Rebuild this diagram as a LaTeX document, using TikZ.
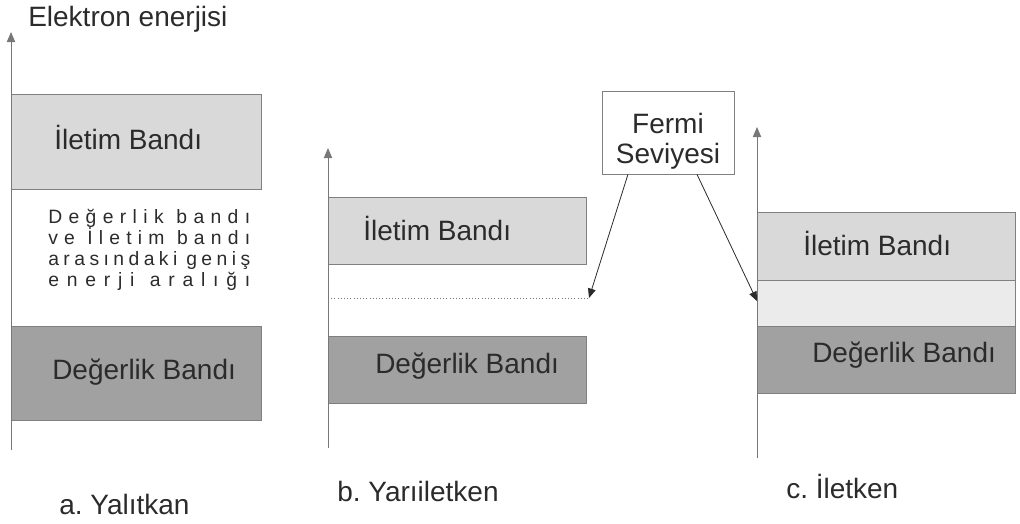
\documentclass[tikz,border=0pt]{standalone}
\usepackage{fontspec}
\setmainfont{Liberation Sans}
\usetikzlibrary{arrows}
\frenchspacing

\definecolor{iletimgri}{HTML}{D9D9D9}
\definecolor{degerlikgri}{HTML}{A1A1A1}
\definecolor{boslukgri}{HTML}{EBEBEB}
\definecolor{kenargri}{HTML}{808080}
\definecolor{eksengri}{HTML}{787878}
\definecolor{yazigri}{HTML}{2B2B2B}

\begin{document}
\begin{tikzpicture}[x = 0.75pt, y = -0.75pt, every node/.style = {inner sep = 0pt,
	text = yazigri, font = \fontsize{21}{25}\selectfont},
	iletim/.style = {draw = kenargri, fill = iletimgri, line width = 0.75pt},
	degerlik/.style = {draw = kenargri, fill = degerlikgri, line width = 0.75pt},
	bosluk/.style = {draw = kenargri, fill = boslukgri, line width = 0.75pt}]

		\useasboundingbox (0, 0) rectangle (1020, 524);

		% bantlar
		\foreach \xa/\ya/\xb/\yb/\tur in {11/95/261/189/iletim, 11/326/261/420/degerlik,
			328/197/586/264/iletim, 328/336/586/403/degerlik,
			757/212/1015/280/iletim, 757/280/1015/326/bosluk, 757/326/1015/393/degerlik}
			\path [\tur] (\xa, \ya) rectangle (\xb, \yb);

		% eksenler
		\foreach \xe/\ya/\yb in {11/450/32, 328/448/148, 757/458/127}
			\draw [-triangle 45, draw = eksengri, line width = 0.75pt] (\xe, \ya) -- (\xe, \yb);

		\node (enerji) at ( 28,  27) [anchor = base west] {Elektron enerjisi};
		\node (IBa)    at ( 54, 150) [anchor = base west] {İletim Bandı};
		\node (DBa)    at ( 52, 379) [anchor = base west] {Değerlik Bandı};
		\node (IBb)    at (363, 240) [anchor = base west] {İletim Bandı};
		\node (DBb)    at (375, 373) [anchor = base west] {Değerlik Bandı};
		\node (IBc)    at (803, 255) [anchor = base west] {İletim Bandı};
		\node (DBc)    at (812, 362) [anchor = base west] {Değerlik Bandı};
		\node (YAL)    at ( 59, 514) [anchor = base west] {a. Yalıtkan};
		\node (YARI)   at (337, 501) [anchor = base west] {b. Yarıiletken};
		\node (ILET)   at (786, 498) [anchor = base west] {c. İletken};

		\foreach \satir/\yy [count = \i] in {D e ğ e r l i k \ b a n d ı/223,
			v e \ İ l e t i m \ b a n d ı/244, a r a s ı n d a k i \ g e n i ş/265,
			e n e r j i \ a r a l ı ğ ı/286}
			\node (aralik\i) at (48, \yy) [anchor = base west,
				font = \fontsize{14.5}{16}\selectfont]
				{\spaceskip = 0pt plus 1fil\makebox[151.5pt][s]{\satir}};

		\node (fermi) at (668, 133) [draw = kenargri, fill = white, line width = 0.75pt,
			minimum width = 99pt, minimum height = 61.5pt] {};
		\node (fermiyazi) at (668, 133) [align = center, yshift = -6pt,
			font = \fontsize{21}{22.5}\selectfont] {Fermi\\Seviyesi};

		\coordinate (EFb) at (589, 298);
		\coordinate (EFc) at (757, 301);
		\draw [dotted, draw = eksengri] (328, 298) -- (EFb);

	    \foreach \aci/\to in {226/EFb, 305/EFc}
	    	\draw [-triangle 45, draw = yazigri, line width = 0.6pt] (fermi.\aci) -- (\to);

	\end{tikzpicture}
\end{document}
